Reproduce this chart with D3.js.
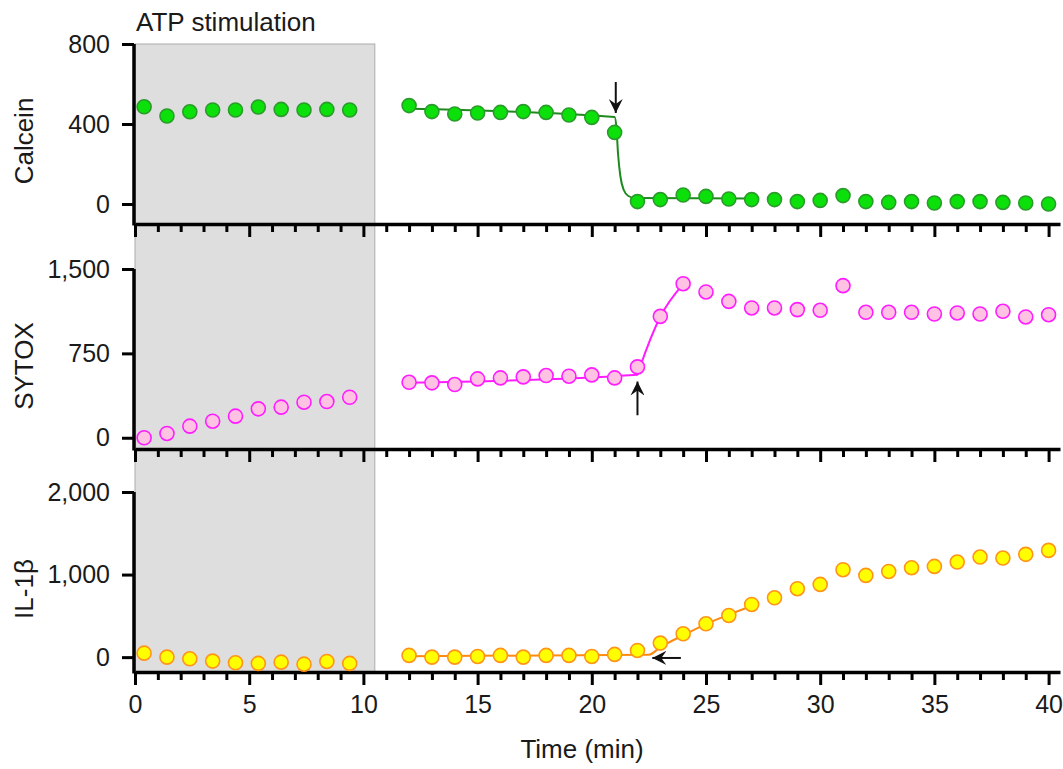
<!DOCTYPE html>
<html>
<head>
<meta charset="utf-8">
<script src="https://cdn.jsdelivr.net/npm/d3@7"></script>
<style>
  body { margin: 0; background: #fff; }
  text { font-family: "Liberation Sans", Arial, sans-serif; fill: #1a1a1a; }
</style>
</head>
<body>
<div id="chart"></div>
<script>
// time points (min)
const timeBefore = [0.4, 1.4, 2.4, 3.4, 4.4, 5.4, 6.4, 7.4, 8.4, 9.4];
const timeAfter = [12, 13, 14, 15, 16, 17, 18, 19, 20, 21, 22, 23, 24, 25, 26, 27, 28, 29, 30, 31, 32, 33, 34, 35, 36, 37, 38, 39, 40];

// Calcein
const calceinBefore = [486, 440, 461, 470, 470, 485, 473, 470, 473, 470];
const calceinAfter = [492, 462, 450, 455, 458, 462, 458, 445, 433, 358, 12, 22, 45, 38, 25, 22, 22, 12, 18, 42, 12, 8, 12, 5, 12, 12, 8, 5, 0];
const calceinFitT = [12, 21, 21.08, 21.15, 21.25, 21.4, 21.6, 21.9, 27];
const calceinFitV = [476, 435, 380, 250, 140, 70, 40, 30, 27];

// SYTOX
const sytoxBefore = [0, 38, 103, 147, 192, 257, 272, 316, 322, 360];
const sytoxAfter = [493, 488, 473, 523, 532, 541, 553, 547, 559, 532, 630, 1079, 1369, 1296, 1212, 1154, 1154, 1139, 1133, 1352, 1115, 1115, 1115, 1100, 1109, 1100, 1124, 1074, 1094];
const sytoxFitT = [12, 22, 22.1, 23, 24];
const sytoxFitV = [488, 560, 620, 1075, 1365];

// IL-1β
const ilBefore = [48, 0, -20, -48, -68, -76, -61, -85, -52, -76];
const ilAfter = [21, 0, 0, 8, 21, 0, 21, 21, 8, 33, 81, 170, 283, 404, 505, 638, 719, 829, 881, 1059, 990, 1038, 1083, 1099, 1152, 1212, 1200, 1245, 1293];
const ilFitT = [12, 22.5, 23, 24, 25, 26, 27];
const ilFitV = [10, 30, 120, 265, 400, 515, 620];

// arrows: [t1, v1] -> [t2, v2] (head at second point)
const calceinArrow = [[21.05, 610], [21.05, 455]];
const sytoxArrow = [[22, 200], [22, 500]];
const ilArrow = [[23.9, -10], [22.65, -10]];

const yTicksCalcein = [0, 400, 800];
const yTicksSytox = [0, 750, 1500];
const yTicksIl = [0, 1000, 2000];
const stimEnd = 10.5;

const width = 1063, height = 769;
const svg = d3.select("#chart").append("svg")
    .attr("width", width)
    .attr("height", height);

const x = d3.scaleLinear().domain([0, 40.5]).range([135, 1060]);

const panels = [
    { name: "Calcein", domain: [-100, 800], top: 44, ticks: yTicksCalcein,
      before: calceinBefore, after: calceinAfter, fitT: calceinFitT, fitV: calceinFitV,
      arrow: calceinArrow, fill: "#0be00b", stroke: "#2b9b2b", line: "#1e8a1e" },
    { name: "SYTOX", domain: [-100, 1500], top: 269, ticks: yTicksSytox,
      before: sytoxBefore, after: sytoxAfter, fitT: sytoxFitT, fitV: sytoxFitV,
      arrow: sytoxArrow, fill: "#ffc2e2", stroke: "#ff1cff", line: "#ff1cff" },
    { name: "IL-1β", domain: [-180, 2000], top: 492, ticks: yTicksIl,
      before: ilBefore, after: ilAfter, fitT: ilFitT, fitV: ilFitV,
      arrow: ilArrow, fill: "#ffff00", stroke: "#ff9418", line: "#ff8a10" }
];
const panelH = 180;
const tickFont = "25px";
const titleFont = "26px";

// arrow head
svg.append("defs").append("marker")
    .attr("id", "head")
    .attr("viewBox", "-14 -7 14 14")
    .attr("refX", 0).attr("refY", 0)
    .attr("markerWidth", 14).attr("markerHeight", 14)
    .attr("markerUnits", "userSpaceOnUse")
    .attr("orient", "auto")
    .append("path")
    .attr("d", "M0,0L-14,-7L-9,0L-14,7Z")
    .attr("fill", "#111");

// gray stimulation box behind everything
svg.append("rect")
    .attr("x", x(0))
    .attr("y", panels[0].top)
    .attr("width", x(stimEnd) - x(0))
    .attr("height", panels[2].top + panelH - panels[0].top)
    .attr("fill", "#dedede")
    .attr("stroke", "#ababab")
    .attr("stroke-width", 1);

svg.append("text")
    .attr("x", 136).attr("y", 31)
    .style("font-size", titleFont)
    .text("ATP stimulation");

panels.forEach((p, i) => {
    const bottom = p.top + panelH;
    const y = d3.scaleLinear().domain(p.domain).range([bottom, p.top]);
    const g = svg.append("g");

    // x axis: minor tick every minute, major every 5
    const xAxis = d3.axisBottom(x)
        .tickValues(d3.range(0, 41))
        .tickSizeOuter(0)
        .tickFormat(d => (i === 2 && d % 5 === 0) ? d : "");
    const xg = g.append("g")
        .attr("transform", `translate(0,${bottom})`)
        .call(xAxis);
    xg.selectAll(".tick line")
        .attr("y2", d => d % 5 === 0 ? 13 : 8)
        .attr("stroke-width", 3);
    xg.selectAll(".tick text")
        .attr("y", 23)
        .attr("dy", "0.71em")
        .style("font-size", tickFont);
    xg.select(".domain").attr("stroke-width", 3.5);

    // y axis
    const yAxis = d3.axisLeft(y)
        .tickValues(p.ticks)
        .tickSize(12)
        .tickSizeOuter(0)
        .tickPadding(12)
        .tickFormat(d3.format(","));
    const yg = g.append("g")
        .attr("transform", `translate(${x(0) - 1},0)`)
        .call(yAxis);
    yg.select(".domain")
        .attr("d", `M0,${y(p.domain[1])}V${bottom + 1.5}`)
        .attr("stroke-width", 3.5);
    yg.selectAll(".tick line").attr("stroke-width", 3);
    yg.selectAll(".tick text")
        .style("font-size", tickFont);

    // y title
    g.append("text")
        .attr("transform", `translate(33,${(p.top + bottom) / 2 + 7}) rotate(-90)`)
        .attr("text-anchor", "middle")
        .style("font-size", titleFont)
        .text(p.name);

    // fit line
    const fit = p.fitT.map((t, k) => [t, p.fitV[k]]);
    g.append("path")
        .datum(fit)
        .attr("fill", "none")
        .attr("stroke", p.line)
        .attr("stroke-width", 2)
        .attr("d", d3.line().x(d => x(d[0])).y(d => y(d[1])).curve(d3.curveMonotoneX));

    // dots
    const pts = timeBefore.map((t, k) => [t, p.before[k]])
        .concat(timeAfter.map((t, k) => [t, p.after[k]]));
    g.selectAll(".dot")
        .data(pts)
        .join("circle")
        .attr("class", "dot")
        .attr("cx", d => x(d[0]))
        .attr("cy", d => y(d[1]))
        .attr("r", 7)
        .attr("fill", p.fill)
        .attr("stroke", p.stroke)
        .attr("stroke-width", 1.6);

    // arrow
    g.append("line")
        .attr("x1", x(p.arrow[0][0])).attr("y1", y(p.arrow[0][1]))
        .attr("x2", x(p.arrow[1][0])).attr("y2", y(p.arrow[1][1]))
        .attr("stroke", "#111")
        .attr("stroke-width", 2)
        .attr("marker-end", "url(#head)");
});

svg.append("text")
    .attr("x", 582).attr("y", 758)
    .attr("text-anchor", "middle")
    .style("font-size", titleFont)
    .text("Time (min)");
</script>
</body>
</html>
